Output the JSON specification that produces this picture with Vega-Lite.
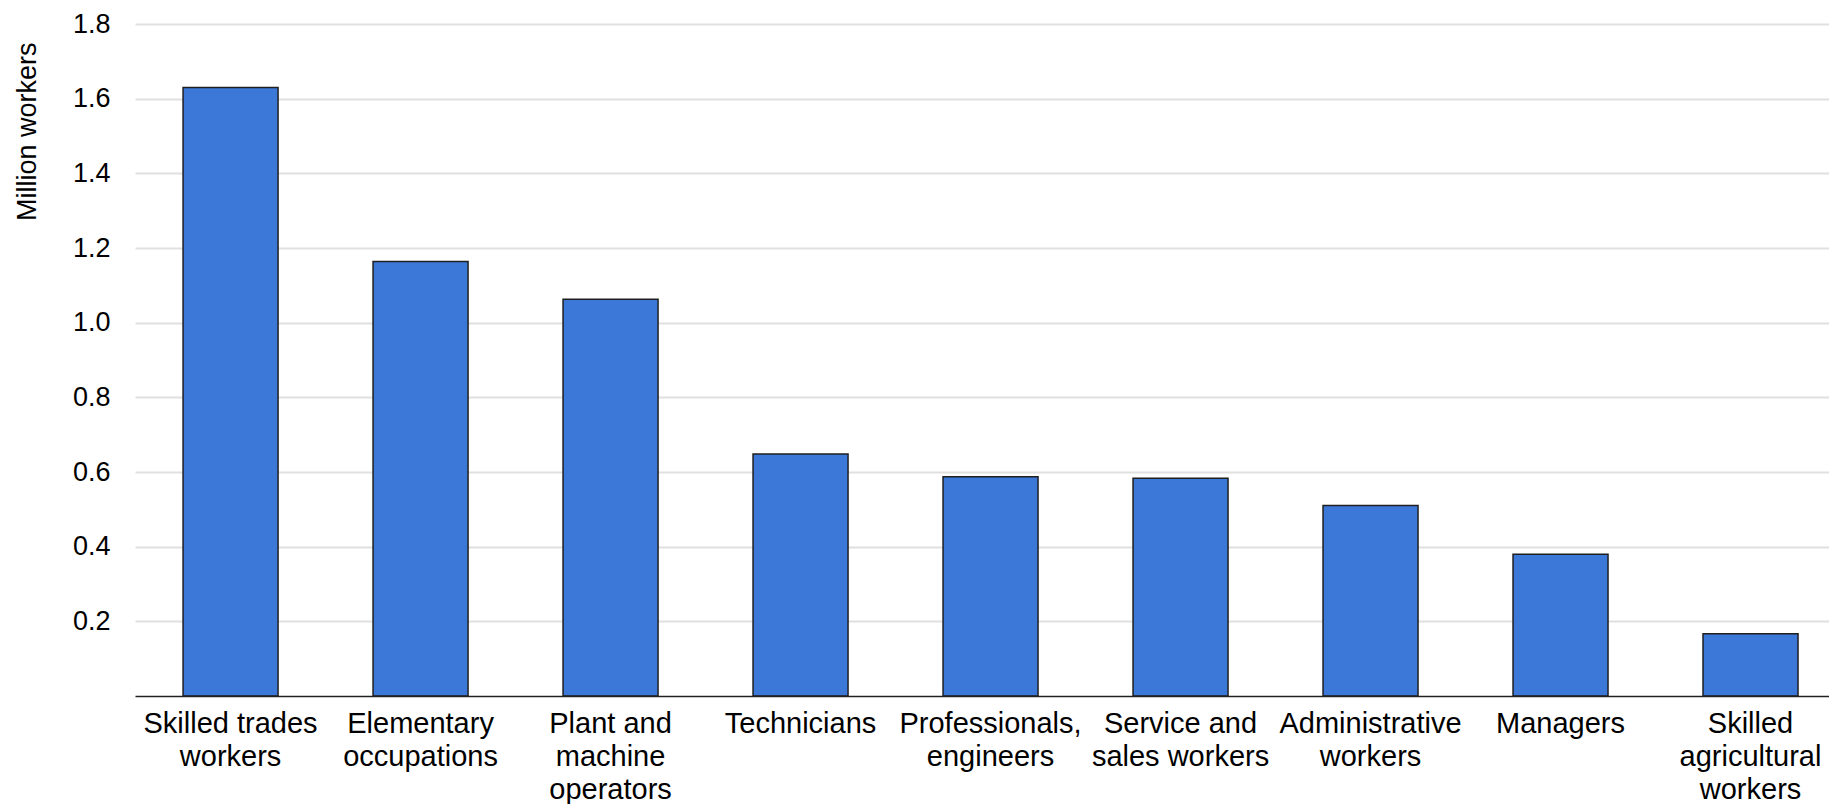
{
  "$schema": "https://vega.github.io/schema/vega-lite/v6.json",
  "autosize": {"type": "none"},
  "padding": {"left": 135, "top": 24, "right": 0, "bottom": 108},
  "width": 1694,
  "height": 672,
  "background": "white",
  "config": {
    "font": "Liberation Sans",
    "view": {"stroke": null}
  },
  "data": {
    "values": [
      {"occupation": "Skilled trades\nworkers", "workers": 1.63},
      {"occupation": "Elementary\noccupations", "workers": 1.164},
      {"occupation": "Plant and\nmachine\noperators", "workers": 1.063},
      {"occupation": "Technicians", "workers": 0.648},
      {"occupation": "Professionals,\nengineers", "workers": 0.587},
      {"occupation": "Service and\nsales workers", "workers": 0.583},
      {"occupation": "Administrative\nworkers", "workers": 0.51},
      {"occupation": "Managers", "workers": 0.38},
      {"occupation": "Skilled\nagricultural\nworkers", "workers": 0.167}
    ]
  },
  "mark": {"type": "bar", "color": "#3c78d8", "stroke": "#1f1f1f", "strokeWidth": 1.5},
  "encoding": {
    "x": {
      "field": "occupation",
      "type": "nominal",
      "sort": null,
      "scale": {"paddingInner": 0.5, "paddingOuter": 0.208, "align": 0.608},
      "axis": {
        "title": null,
        "labelAngle": 0,
        "labelExpr": "split(datum.label, '\\n')",
        "labelFontSize": 29,
        "labelColor": "#000000",
        "labelPadding": 13,
        "labelLineHeight": 33,
        "labelBaseline": "top",
        "labelLimit": 0,
        "labelOverlap": false,
        "ticks": false,
        "tickSize": 0,
        "domain": true,
        "domainColor": "#222222",
        "domainWidth": 1.5,
        "grid": false,
        "zindex": 1
      }
    },
    "y": {
      "field": "workers",
      "type": "quantitative",
      "scale": {"domain": [0, 1.8], "nice": false},
      "axis": {
        "title": "Million workers",
        "titleFontSize": 27,
        "titleFontWeight": "normal",
        "titleColor": "#000000",
        "titleAngle": -90,
        "titleAlign": "right",
        "titleBaseline": "alphabetic",
        "titleX": -100,
        "titleY": 18,
        "values": [0.2, 0.4, 0.6, 0.8, 1.0, 1.2, 1.4, 1.6, 1.8],
        "format": ".1f",
        "labelFontSize": 27,
        "labelColor": "#000000",
        "labelPadding": 25,
        "ticks": false,
        "tickSize": 0,
        "domain": false,
        "grid": true,
        "gridColor": "#e0e0e0",
        "gridWidth": 2
      }
    }
  }
}
